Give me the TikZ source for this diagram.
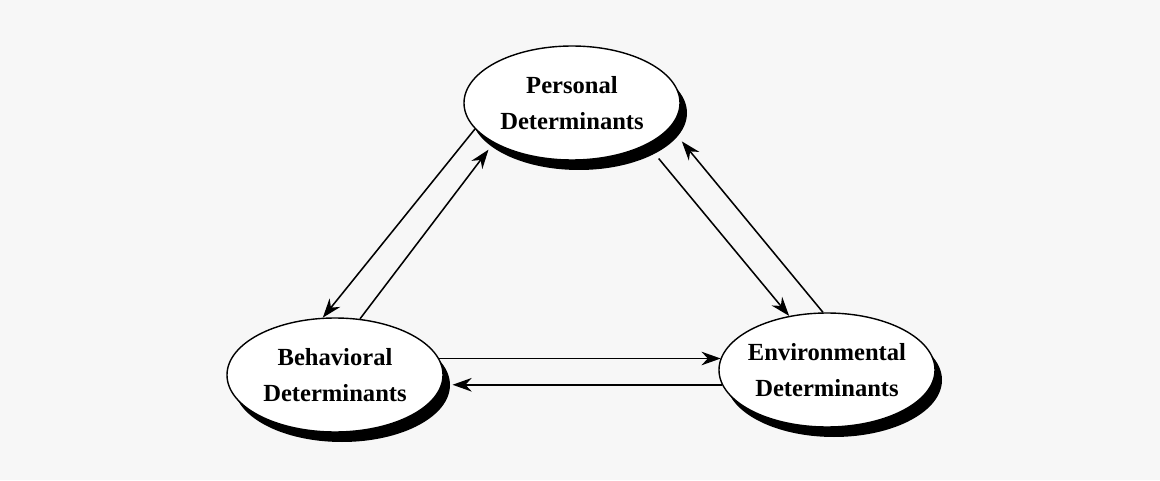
\documentclass[tikz,border=0pt]{standalone}
\usepackage{fontspec}
\setmainfont{Liberation Serif}
\usetikzlibrary{shapes,arrows.meta,shadows}

\begin{document}
\begin{tikzpicture}[
    det/.style={ellipse, draw, line width=1pt, fill=white, inner sep=0pt,
        minimum width=5.4cm, minimum height=2.85cm,
        drop shadow={shadow xshift=0.175cm, shadow yshift=-0.25cm, fill=black, opacity=1}},
    lbl/.style={align=center, font=\fontsize{17.5}{26}\selectfont\bfseries},
    link/.style={line width=1.1pt, -{Stealth[length=4.8mm, width=3.4mm]}}
]
    \useasboundingbox[fill=black!3] (0,0) rectangle (29,12);

    % Determinants
    \node[det, label={[lbl]center:Personal\\Determinants}] (pers) at (14.3,9.425) {};
    \node[det, label={[lbl]center:Behavioral\\Determinants}] (beh) at (8.375,2.625) {};
    \node[det, label={[lbl]center:Environmental\\Determinants}] (env) at (20.675,2.75) {};

    % Personal - Behavioral
    \draw[link] (pers.195.3) -- (beh.102.2);
    \draw[link, shorten >=0.21cm] (beh.66.7) -- (pers.207.7);

    % Personal - Environmental
    \draw[link, shorten <=0.45cm] (pers.331.1) -- (env.125);
    \draw[link, shorten >=0.45cm] (env.94.9) -- (pers.346.8);

    % Behavioral - Environmental
    \draw[link, shorten >=-0.06cm] (beh.9.96) -- (beh.9.96 -| env.west);
    \draw[link, shorten >=0.22cm] (env.188.77) -- (env.188.77 -| beh.east);
\end{tikzpicture}
\end{document}
